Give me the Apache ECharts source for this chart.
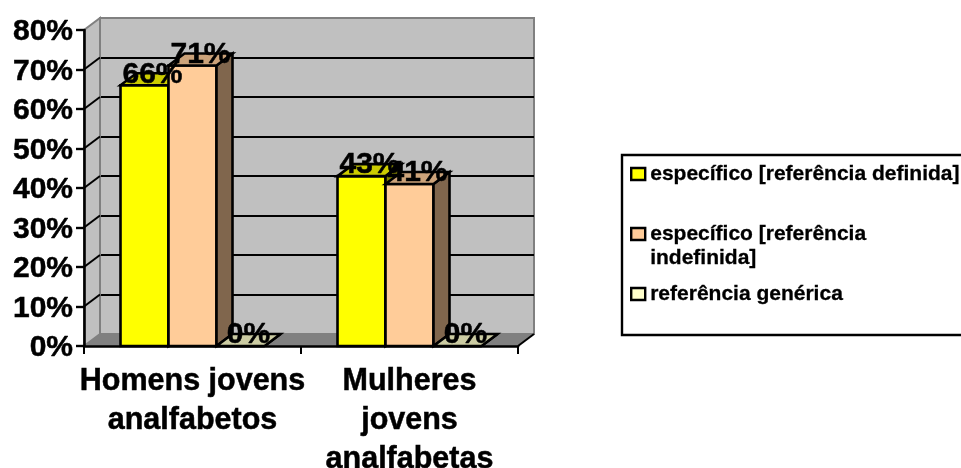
<!DOCTYPE html>
<html>
<head>
<meta charset="utf-8">
<style>html,body{margin:0;padding:0;background:#fff}#c{width:961px;height:468px}</style>
<script src="https://cdn.jsdelivr.net/npm/echarts@6/dist/echarts.min.js"></script>
</head>
<body>
<div id="c"></div>
<script>
const categories = ['Homens jovens\nanalfabetos', 'Mulheres\njovens\nanalfabetas'];
const seriesNames = ['específico [referência definida]', 'específico [referência indefinida]', 'referência genérica'];
const definida = [66, 43];
const indefinida = [71, 41];
const generica = [0, 0];
const yTicks = [0, 10, 20, 30, 40, 50, 60, 70, 80];

const FONT = '"Liberation Sans", Arial, sans-serif';
const DX = 16, DY = -12;
const BAR_FRAC = 48 / 217;
const HEAVY = { textBorderColor: '#000', textBorderWidth: 0.5 };

function cuboid(front, top, side) {
  return function (params, api) {
    const cat = api.value(0), val = api.value(1);
    const p = api.coord([cat, val]);
    const base = api.coord([cat, 0]);
    const w = api.size([1, 0])[0] * BAR_FRAC;
    const x0 = p[0] + (params.seriesIndex - 2) * w - w / 2, x1 = x0 + w;
    const y0 = p[1], y1 = base[1];
    const stroke = { stroke: '#000', lineWidth: 2.6, lineJoin: 'miter' };
    return {
      type: 'group',
      children: [
        { type: 'polygon', shape: { points: [[x0, y0], [x1, y0], [x1, y1], [x0, y1]] }, style: Object.assign({ fill: front }, stroke) },
        { type: 'polygon', shape: { points: [[x1, y0], [x1 + DX, y0 + DY], [x1 + DX, y1 + DY], [x1, y1]] }, style: Object.assign({ fill: side }, stroke) },
        { type: 'polygon', shape: { points: [[x0, y0], [x0 + DX, y0 + DY], [x1 + DX, y0 + DY], [x1, y0]] }, style: Object.assign({ fill: top }, stroke) },
        { type: 'text', z2: 100, style: { x: (x0 + x1) / 2 + 8, y: y0 - 11, text: val + '%', fill: '#000', stroke: '#000', lineWidth: 0.5, font: 'bold 30px ' + FONT, align: 'center', verticalAlign: 'middle' } }
      ]
    };
  };
}

function wallsItem(params, api) {
  const r = params.coordSys;
  const xL = r.x, xR = r.x + r.width, yT = r.y, yB = r.y + r.height;
  const children = [
    { type: 'polygon', shape: { points: [[xL, yB], [xR, yB], [xR + DX, yB + DY], [xL + DX, yB + DY]] }, style: { fill: '#808080' } },
    { type: 'polygon', shape: { points: [[xL, yB], [xL + DX, yB + DY], [xL + DX, yT + DY], [xL, yT]] }, style: { fill: '#c0c0c0', stroke: '#808080', lineWidth: 2 } },
    { type: 'line', shape: { x1: xR, y1: yB, x2: xR + DX, y2: yB + DY }, style: { stroke: '#000', lineWidth: 2 } }
  ];
  yTicks.slice(1, -1).forEach(function (t) {
    const y = api.coord([0, t])[1];
    children.push({ type: 'line', shape: { x1: xL, y1: y, x2: xL + DX, y2: y + DY }, style: { stroke: '#000', lineWidth: 2 } });
  });
  return { type: 'group', children: children };
}

const chart = echarts.init(document.getElementById('c'), null, { renderer: 'canvas' });
chart.setOption({
  animation: false,
  backgroundColor: '#fff',
  textStyle: { fontFamily: FONT },
  grid: [
    { left: 84, top: 30, width: 434, height: 316, containLabel: false, outerBoundsMode: 'none' },
    { left: 100, top: 18, width: 434, height: 316, show: true, backgroundColor: '#c0c0c0', borderColor: '#808080', borderWidth: 2, containLabel: false, outerBoundsMode: 'none' }
  ],
  xAxis: [
    { type: 'category', gridIndex: 0, data: categories, z: 5,
      axisLine: { show: true, lineStyle: { color: '#000', width: 2.6 } },
      axisTick: { show: true, length: 8, lineStyle: { color: '#000', width: 2 } },
      axisLabel: Object.assign({ interval: 0, margin: 16, color: '#000', fontFamily: FONT, fontWeight: 'bold', fontSize: 30.5, lineHeight: 39 }, HEAVY) },
    { type: 'category', gridIndex: 1, data: categories, show: false }
  ],
  yAxis: [
    { type: 'value', gridIndex: 0, min: 0, max: 80, interval: 10, z: 5,
      axisLine: { show: true, lineStyle: { color: '#000', width: 2.6 } },
      axisTick: { show: true, length: 8, lineStyle: { color: '#000', width: 2.4 } },
      splitLine: { show: false },
      axisLabel: Object.assign({
        formatter: function (v) { return '{v|' + v + '%}'; },
        margin: 11, color: '#000', fontFamily: FONT, fontWeight: 'bold', fontSize: 30,
        rich: { v: Object.assign({ padding: [4, 0, 0, 0], color: '#000', fontFamily: FONT, fontWeight: 'bold', fontSize: 30 }, HEAVY) }
      }, HEAVY) },
    { type: 'value', gridIndex: 1, min: 0, max: 80, interval: 10,
      axisLine: { show: false }, axisTick: { show: false }, axisLabel: { show: false },
      splitLine: { show: true, showMinLine: false, showMaxLine: false, lineStyle: { color: '#000', width: 2 } } }
  ],
  legend: {
    left: 622, top: 155, orient: 'vertical', selectedMode: false,
    padding: [7, 30, 29, 8], itemGap: 12, itemWidth: 14, itemHeight: 12,
    borderColor: '#000', borderWidth: 2.4, backgroundColor: '#fff',
    align: 'left',
    textStyle: { color: '#000', fontFamily: FONT, fontWeight: 'bold', fontSize: 21, lineHeight: 24, textBorderColor: '#000', textBorderWidth: 0.3 },
    formatter: function (n) {
      return n === seriesNames[1] ? '\nespecífico [referência\nindefinida]' : n;
    },
    data: [
      { name: seriesNames[0], icon: 'rect', itemStyle: { color: '#ffff00', borderColor: '#000', borderWidth: 2.4 } },
      { name: seriesNames[1], icon: 'rect', itemStyle: { color: '#ffcc99', borderColor: '#000', borderWidth: 2.4 } },
      { name: seriesNames[2], icon: 'rect', itemStyle: { color: '#ffffcc', borderColor: '#000', borderWidth: 2.4 } }
    ]
  },
  series: [
    { type: 'custom', name: 'paredes', xAxisIndex: 0, yAxisIndex: 0, silent: true, renderItem: wallsItem, data: [[0, 0]], z: 1 },
    { type: 'custom', name: seriesNames[0], xAxisIndex: 0, yAxisIndex: 0, renderItem: cuboid('#ffff00', '#cccc00', '#808000'), data: definida.map((v, i) => [i, v]), itemStyle: { color: '#ffff00' } },
    { type: 'custom', name: seriesNames[1], xAxisIndex: 0, yAxisIndex: 0, renderItem: cuboid('#ffcc99', '#cca37a', '#80664d'), data: indefinida.map((v, i) => [i, v]), itemStyle: { color: '#ffcc99' } },
    { type: 'custom', name: seriesNames[2], xAxisIndex: 0, yAxisIndex: 0, renderItem: cuboid('#ffffcc', '#cccca3', '#808066'), data: generica.map((v, i) => [i, v]), itemStyle: { color: '#ffffcc' } }
  ]
});
</script>
</body>
</html>
